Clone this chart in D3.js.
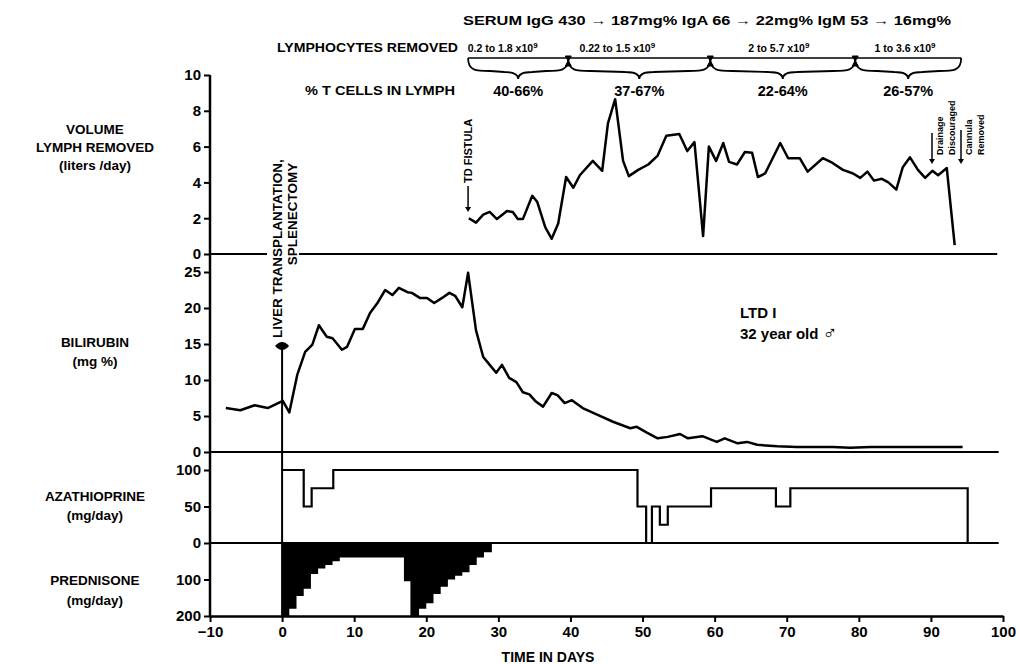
<!DOCTYPE html>
<html>
<head>
<meta charset="utf-8">
<script src="https://cdn.jsdelivr.net/npm/d3@7"></script>
<style>
  body { margin: 0; background: #fff; }
  svg { font-family: "Liberation Sans", Arial, sans-serif; font-weight: bold; }
  .tick text { font-size: 15px; font-weight: bold; }
  .tick line { stroke: #000; stroke-width: 2; }
</style>
</head>
<body>
<svg width="1020" height="664"></svg>
<script>
// lymph volume removed (liters/day)
var lymphDays = [25.9,26.9,27.9,28.8,29.8,31.2,32.0,32.7,33.4,34.7,35.4,36.5,37.4,38.3,39.4,40.4,41.3,43.1,44.4,45.2,46.2,47.3,48.1,49.4,50.8,52.1,53.3,55.1,56.2,57.2,58.4,59.2,60.2,61.2,62.0,63.1,64.2,65.2,66.0,67.0,69.1,70.2,71.8,72.9,75.0,76.3,77.8,79.2,80.2,81.2,82.1,83.2,84.1,85.2,86.1,87.1,88.2,89.2,90.2,91.0,92.2,93.3];
var lymphVol = [2.0,1.75,2.2,2.35,1.95,2.4,2.35,1.95,1.95,3.25,2.9,1.5,0.85,1.7,4.3,3.7,4.4,5.2,4.65,7.3,8.65,5.2,4.35,4.7,5.0,5.5,6.6,6.7,5.75,6.25,1.0,6.0,5.2,6.2,5.15,5.0,5.7,5.65,4.3,4.5,6.2,5.35,5.35,4.6,5.35,5.1,4.7,4.5,4.25,4.6,4.1,4.2,4.0,3.6,4.85,5.4,4.7,4.25,4.65,4.4,4.8,0.5];

// bilirubin (mg %)
var biliDays = [-7.8,-5.8,-3.8,-2.0,0.1,1.0,2.1,3.2,4.2,5.1,6.2,7.0,8.3,9.0,10.1,11.2,12.2,13.3,14.3,15.3,16.2,17.4,18.0,19.1,20.1,21.1,22.2,23.2,24.0,25.0,25.8,26.9,27.9,28.8,29.7,30.5,31.5,32.5,33.4,34.3,35.2,36.2,37.4,38.2,39.2,40.2,41.7,43.7,45.9,48.3,49.2,50.6,52.1,53.5,55.2,56.3,58.3,60.3,61.4,63.2,64.5,65.9,68.7,71.4,73.6,76.4,78.8,81.6,86.2,90.9,94.4];
var biliVal = [6.1,5.8,6.5,6.1,7.1,5.5,10.7,13.9,14.9,17.6,16.0,15.8,14.2,14.6,17.1,17.1,19.3,20.8,22.5,21.8,22.8,22.2,22.1,21.4,21.4,20.7,21.4,22.1,21.7,20.1,24.9,16.9,13.2,12.1,11.0,12.1,10.3,9.7,8.3,8.0,7.0,6.3,8.2,7.9,6.8,7.2,6.1,5.2,4.2,3.3,3.5,2.7,1.9,2.1,2.5,1.9,2.2,1.4,1.9,1.2,1.4,1.0,0.8,0.7,0.7,0.7,0.6,0.7,0.7,0.7,0.7];

// azathioprine (mg/day), step changes
var azaDays = [0,3.0,4.1,7.1,49.3,50.5,51.3,52.4,53.5,59.5,68.5,70.5,95.1];
var azaDose = [100,50,75,100,50,0,50,25,50,75,50,75,0];

// prednisone (mg/day), step changes
var predDays = [0,1,2,3,4,5,6,7,8,16.9,17.8,19,20,21,22,23,24,25,26,27,28,29.1];
var predDose = [200,180,145,125,85,70,60,50,40,105,200,180,165,140,120,100,90,80,60,40,25,0];

var xTicks = [-10,0,10,20,30,40,50,60,70,80,90,100];
var lymphTicks = [0,2,4,6,8,10];
var biliTicks = [0,5,10,15,20,25];
var azaTicks = [0,50,100];
var predTicks = [100,200];

// lymph collection periods (days) and annotations
var periodBounds = [25.8,39.7,59.4,79.5,94.2];
var lymphocyteRanges = [["0.2 to 1.8 x10","9"],["0.22 to 1.5 x10","9"],["2 to 5.7 x10","9"],["1 to 3.6 x10","9"]];
var rangeLabelDays = [30.6,46.5,68.9,86.4];
var tCellPct = ["40-66%","37-67%","22-64%","26-57%"];

var svg = d3.select('svg');

var x = d3.scaleLinear().domain([-10,100]).range([210,1003]);
var yL = d3.scaleLinear().domain([0,10]).range([254,75]);
var yB = d3.scaleLinear().domain([0,25]).range([452,272]);
var yA = d3.scaleLinear().domain([0,100]).range([543,470]);
var yP = d3.scaleLinear().domain([0,200]).range([543,616]);

function yAxis(scale, ticks) {
  var g = svg.append('g')
    .attr('transform', 'translate(' + x(-10) + ',0)')
    .call(d3.axisLeft(scale).tickValues(ticks).tickSize(6).tickPadding(3));
  g.select('.domain').remove();
  return g;
}
yAxis(yL, lymphTicks);
yAxis(yB, biliTicks);
yAxis(yA, azaTicks);
yAxis(yP, predTicks);

var xg = svg.append('g')
  .attr('transform', 'translate(0,' + yP(200) + ')')
  .call(d3.axisBottom(x).tickValues(xTicks).tickSize(6).tickSizeOuter(0).tickPadding(4)
    .tickFormat(d => d < 0 ? '\u2212' + Math.abs(d) : d));
xg.select('.domain').attr('stroke-width', 2.5);

// vertical axis line
svg.append('line')
  .attr('x1', x(-10)).attr('x2', x(-10))
  .attr('y1', yL(10)).attr('y2', yP(200))
  .attr('stroke', '#000').attr('stroke-width', 2.5);

// panel base lines
[[yL(0), 99.2], [yB(0), 99.4], [yA(0), 99.4]].forEach(d => {
  svg.append('line')
    .attr('x1', x(-10)).attr('x2', x(d[1]))
    .attr('y1', d[0]).attr('y2', d[0])
    .attr('stroke', '#000').attr('stroke-width', 2);
});

// prednisone filled steps
var predData = predDays.map((d, i) => [d, predDose[i]]);
svg.append('path')
  .datum(predData)
  .attr('d', d3.area().curve(d3.curveStepAfter)
    .x(d => x(d[0])).y0(yP(0)).y1(d => yP(d[1])))
  .attr('fill', '#000');

// azathioprine steps
var azaData = azaDays.map((d, i) => [d, azaDose[i]]);
svg.append('path')
  .datum(azaData)
  .attr('d', d3.line().curve(d3.curveStepAfter).x(d => x(d[0])).y(d => yA(d[1])))
  .attr('fill', 'none').attr('stroke', '#000').attr('stroke-width', 2.2);

// bilirubin line
svg.append('path')
  .datum(biliDays.map((d, i) => [d, biliVal[i]]))
  .attr('d', d3.line().x(d => x(d[0])).y(d => yB(d[1])))
  .attr('fill', 'none').attr('stroke', '#000').attr('stroke-width', 2.5)
  .attr('stroke-linejoin', 'round');

// lymph line
svg.append('path')
  .datum(lymphDays.map((d, i) => [d, lymphVol[i]]))
  .attr('d', d3.line().x(d => x(d[0])).y(d => yL(d[1])))
  .attr('fill', 'none').attr('stroke', '#000').attr('stroke-width', 2.5)
  .attr('stroke-linejoin', 'round');

// transplant marker and line
svg.append('line')
  .attr('x1', x(0)).attr('x2', x(0)).attr('y1', 346).attr('y2', yP(200))
  .attr('stroke', '#000').attr('stroke-width', 2);
svg.append('path')
  .attr('d', 'M' + (x(0) - 7) + ',346 Q' + x(0) + ',338 ' + (x(0) + 7) + ',346 Q' + x(0) + ',354 ' + (x(0) - 7) + ',346Z')
  .attr('fill', '#000');
svg.append('rect')
  .attr('x', 267).attr('y', 150).attr('width', 32).attr('height', 188)
  .attr('fill', '#fff');
svg.append('text')
  .attr('transform', 'translate(282,338) rotate(-90)')
  .attr('font-size', 13.5)
  .text('LIVER TRANSPLANTATION,');
svg.append('text')
  .attr('transform', 'translate(297,214) rotate(-90)')
  .attr('text-anchor', 'middle')
  .attr('font-size', 13.5)
  .text('SPLENECTOMY');

// arrows
function downArrow(xp, y1, y2) {
  svg.append('line').attr('x1', xp).attr('x2', xp).attr('y1', y1).attr('y2', y2 - 3)
    .attr('stroke', '#000').attr('stroke-width', 1.5);
  svg.append('path')
    .attr('d', 'M' + (xp - 3) + ',' + (y2 - 5) + 'L' + (xp + 3) + ',' + (y2 - 5) + 'L' + xp + ',' + y2 + 'Z')
    .attr('fill', '#000');
}
function vText(xp, yp, size, str) {
  svg.append('text')
    .attr('transform', 'translate(' + xp + ',' + yp + ') rotate(-90)')
    .attr('font-size', size).text(str);
}
downArrow(x(25.8), 186, 212);
vText(x(25.8) + 4, 183, 11, 'TD FISTULA');

downArrow(932, 133, 164);
vText(943, 155, 9, 'Drainage');
vText(955, 155, 9, 'Discouraged');
downArrow(961, 130, 164);
vText(972, 155, 9, 'Cannula');
vText(984, 155, 9, 'Removed');

// top annotations
svg.append('text')
  .attr('x', 463).attr('y', 25)
  .attr('font-size', 12.5)
  .attr('textLength', 488).attr('lengthAdjust', 'spacingAndGlyphs')
  .text('SERUM IgG 430 \u2192 187mg%  IgA 66 \u2192 22mg%  IgM 53 \u2192 16mg%');

svg.append('text')
  .attr('x', 458).attr('y', 52).attr('text-anchor', 'end')
  .attr('font-size', 13)
  .attr('textLength', 181).attr('lengthAdjust', 'spacingAndGlyphs')
  .text('LYMPHOCYTES REMOVED');
svg.append('text')
  .attr('x', 455).attr('y', 95).attr('text-anchor', 'end')
  .attr('font-size', 13)
  .attr('textLength', 150).attr('lengthAdjust', 'spacingAndGlyphs')
  .text('% T CELLS IN LYMPH');

var braceY = 58;
svg.append('line')
  .attr('x1', x(periodBounds[0])).attr('x2', x(periodBounds[periodBounds.length - 1]))
  .attr('y1', braceY).attr('y2', braceY)
  .attr('stroke', '#000').attr('stroke-width', 1.5);

d3.range(periodBounds.length - 1).forEach(i => {
  var x0 = x(periodBounds[i]), x1 = x(periodBounds[i + 1]), m = (x0 + x1) / 2, h = 13;
  svg.append('path')
    .attr('d', 'M' + x0 + ',' + braceY +
      'C' + x0 + ',' + (braceY + h) + ' ' + (x0 + 8) + ',' + (braceY + h) + ' ' + (x0 + 22) + ',' + (braceY + h) +
      'L' + (m - 14) + ',' + (braceY + h + 1) +
      'C' + (m - 4) + ',' + (braceY + h + 1) + ' ' + m + ',' + (braceY + h + 4) + ' ' + m + ',' + (braceY + h + 8) +
      'C' + m + ',' + (braceY + h + 4) + ' ' + (m + 4) + ',' + (braceY + h + 1) + ' ' + (m + 14) + ',' + (braceY + h + 1) +
      'L' + (x1 - 22) + ',' + (braceY + h) +
      'C' + (x1 - 8) + ',' + (braceY + h) + ' ' + x1 + ',' + (braceY + h) + ' ' + x1 + ',' + braceY)
    .attr('fill', 'none').attr('stroke', '#000').attr('stroke-width', 1.8);

  svg.append('text')
    .attr('x', m).attr('y', 96).attr('text-anchor', 'middle')
    .attr('font-size', 14.5)
    .text(tCellPct[i]);

  var t = svg.append('text')
    .attr('x', x(rangeLabelDays[i])).attr('y', 52).attr('text-anchor', 'middle')
    .attr('font-size', 10.5);
  t.append('tspan').text(lymphocyteRanges[i][0]);
  t.append('tspan').attr('dy', -4).attr('font-size', 8).text(lymphocyteRanges[i][1]);
});

// separators between periods
periodBounds.slice(1, -1).forEach(d => {
  var xp = x(d);
  svg.append('path')
    .attr('d', 'M' + (xp - 3) + ',56L' + (xp + 3) + ',56L' + xp + ',61Z M' + (xp - 3) + ',66L' + (xp + 3) + ',66L' + xp + ',61Z')
    .attr('fill', '#000').attr('stroke', '#000').attr('stroke-width', 1);
});

// patient label
svg.append('text').attr('x', 740).attr('y', 318).attr('font-size', 15).text('LTD  I');
var pl = svg.append('text').attr('x', 740).attr('y', 339).attr('font-size', 15).text('32 year old ');
pl.append('tspan').attr('font-size', 20).text('\u2642');

// panel labels
var panelLabels = [
  ['VOLUME', 134], ['LYMPH REMOVED', 152], ['(liters /day)', 170],
  ['BILIRUBIN', 347], ['(mg %)', 366],
  ['AZATHIOPRINE', 501], ['(mg/day)', 520],
  ['PREDNISONE', 585], ['(mg/day)', 605]
];
panelLabels.forEach(d => {
  svg.append('text')
    .attr('x', 95).attr('y', d[1]).attr('text-anchor', 'middle')
    .attr('font-size', 13.5)
    .text(d[0]);
});

svg.append('text')
  .attr('x', 548).attr('y', 662).attr('text-anchor', 'middle')
  .attr('font-size', 14)
  .text('TIME IN DAYS');
</script>
</body>
</html>
